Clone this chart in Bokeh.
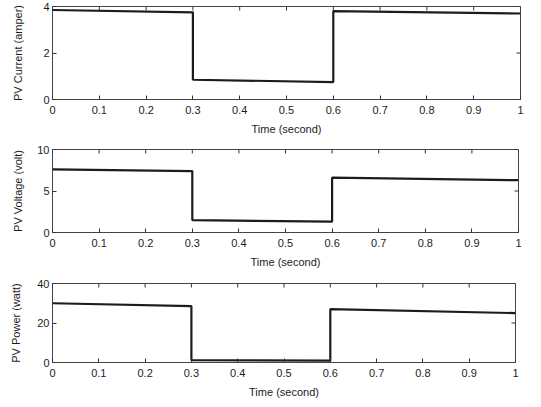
import math
from bokeh.plotting import figure
from bokeh.layouts import column
from bokeh.models import Range1d, FixedTicker, CustomJSTickFormatter
from bokeh.embed import file_html
from bokeh.resources import INLINE

# Segment boundaries (seconds) of the irradiance steps
seg_start = [0.0, 0.3, 0.6]
seg_end = [0.3, 0.6, 1.0]

# PV current (amper) at start / end of each segment
current_start = [3.85, 0.85, 3.80]
current_end = [3.75, 0.75, 3.70]

# PV voltage (volt)
voltage_start = [7.6, 1.5, 6.6]
voltage_end = [7.4, 1.3, 6.3]

# PV power (watt)
power_start = [30.0, 1.2, 27.0]
power_end = [28.5, 0.9, 25.0]

x_ticks = [0, 0.1, 0.2, 0.3, 0.4, 0.5, 0.6, 0.7, 0.8, 0.9, 1.0]
current_ticks = [0, 2, 4]
voltage_ticks = [0, 5, 10]
power_ticks = [0, 20, 40]

FONT = "Liberation Sans"
INK = "#1c1c1c"
TICK = "#333333"


def step_series(starts, ends):
    xs, ys = [], []
    for s, e, v0, v1 in zip(seg_start, seg_end, starts, ends):
        xs += [s, e]
        ys += [v0, v1]
    return xs, ys


def make_panel(starts, ends, ymax, yticks, ylabel, height, b_left, b_top,
               b_bottom, frame_w, b_right, ylabel_standoff):
    p = figure(width=b_left + frame_w + b_right, height=height,
               x_range=Range1d(0, 1), y_range=Range1d(0, ymax),
               output_backend="svg", toolbar_location=None,
               min_border_left=b_left, min_border_right=b_right,
               min_border_top=b_top, min_border_bottom=b_bottom)
    p.grid.visible = False
    p.background_fill_color = "white"
    p.border_fill_color = "white"
    p.outline_line_color = "#444444"
    p.outline_line_width = 1

    fmt = CustomJSTickFormatter(code="return (Math.round(tick*10)/10).toString();")
    for ax in p.xaxis:
        ax.ticker = FixedTicker(ticks=x_ticks)
        ax.formatter = fmt
        ax.axis_label = "Time (second)"
        ax.major_label_standoff = 6
        ax.axis_label_standoff = 6
    for ax in p.yaxis:
        ax.ticker = FixedTicker(ticks=yticks)
        ax.axis_label = ylabel
        ax.axis_label_standoff = ylabel_standoff
        ax.major_label_standoff = 3
    for ax in p.axis:
        ax.axis_line_color = None
        ax.major_tick_in = 4
        ax.major_tick_out = 0
        ax.major_tick_line_color = TICK
        ax.minor_tick_line_color = None
        ax.major_label_text_font = FONT
        ax.major_label_text_font_size = "11px"
        ax.major_label_text_color = INK
        ax.axis_label_text_font = FONT
        ax.axis_label_text_font_size = "11px"
        ax.axis_label_text_font_style = "normal"
        ax.axis_label_text_color = INK

    # mirrored ticks on the top and right edges (MATLAB style)
    p.ray(x=x_ticks, y=[ymax] * len(x_ticks), length=4, length_units="screen",
          angle=-math.pi / 2, line_color=TICK, line_width=1)
    p.ray(x=[1.0] * len(yticks), y=yticks, length=4, length_units="screen",
          angle=math.pi, line_color=TICK, line_width=1)

    xs, ys = step_series(starts, ends)
    p.line(xs, ys, line_color=INK, line_width=2.2)
    return p


p1 = make_panel(current_start, current_end, 4, current_ticks, "PV Current (amper)",
                height=138, b_left=52, b_top=6, b_bottom=39, frame_w=468,
                b_right=17, ylabel_standoff=16)
p2 = make_panel(voltage_start, voltage_end, 10, voltage_ticks, "PV Voltage (volt)",
                height=132, b_left=48, b_top=11, b_bottom=38, frame_w=470,
                b_right=17, ylabel_standoff=10)
p3 = make_panel(power_start, power_end, 40, power_ticks, "PV Power (watt)",
                height=130, b_left=45, b_top=13, b_bottom=35, frame_w=470,
                b_right=17, ylabel_standoff=12)

layout = column(p1, p2, p3, spacing=0)
open("out.html", "w").write(file_html(layout, INLINE))
